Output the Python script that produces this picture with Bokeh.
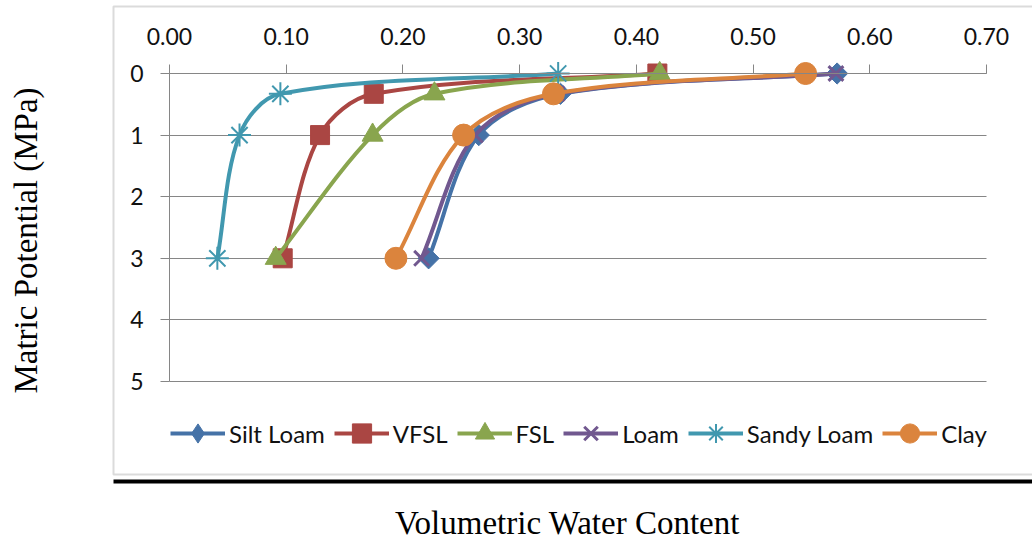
import math
import numpy as np
from bokeh.plotting import figure
from bokeh.models import (Range1d, FixedTicker, NumeralTickFormatter, Legend, LegendItem,
                          Label, BoxAnnotation, ColumnDataSource)
from bokeh.embed import file_html
from bokeh.resources import INLINE

# ---------------- data ----------------
potential = [0, 0.33, 1, 3]          # Matric potential (MPa)
series_names = ["Silt Loam", "VFSL", "FSL", "Loam", "Sandy Loam", "Clay"]
silt_loam = [0.572, 0.335, 0.265, 0.222]
vfsl = [0.418, 0.175, 0.129, 0.097]
fsl = [0.420, 0.227, 0.174, 0.091]
loam = [0.571, 0.332, 0.262, 0.216]
sandy_loam = [0.333, 0.095, 0.060, 0.041]
clay = [0.545, 0.329, 0.252, 0.194]
x_ticks = [0.0, 0.1, 0.2, 0.3, 0.4, 0.5, 0.6, 0.7]
y_ticks = [0, 1, 2, 3, 4, 5]

series_values = [silt_loam, vfsl, fsl, loam, sandy_loam, clay]
colors = ["#4572A7", "#AA4643", "#89A54E", "#71588F", "#4198AF", "#DB843D"]
markers = ["square", "square", "triangle", "x", "asterisk", "circle"]
legend_markers = ["diamond", "square", "triangle", "x", "asterisk", "circle"]
mangles = [math.pi / 4, 0, 0, 0, 0, 0]
msizes = [15, 19, 21, 21, 23, 22]
mlw = [1, 1, 1, 3, 2, 1]

GRID = "#868686"

# ---------------- layout (canvas pixels) ----------------
W, H = 1032, 544
PL, PR, PT, PB = 169, 986, 73, 381          # plot-area box
X_MAX, Y_MAX = 0.7, 5
PX_X = (PR - PL) / X_MAX                     # pixels per x unit
PX_Y = (PB - PT) / Y_MAX                     # pixels per y unit

p = figure(width=W, height=H,
           x_range=Range1d(-PL / PX_X, (W - PL) / PX_X),
           y_range=Range1d((H - PT) / PX_Y, -PT / PX_Y),
           x_axis_location="above", output_backend="svg", toolbar_location=None,
           min_border=0, min_border_left=0, min_border_right=0,
           min_border_top=0, min_border_bottom=0)
p.outline_line_color = None
p.background_fill_color = "white"
p.border_fill_color = "white"

xax, yax = p.xaxis[0], p.yaxis[0]
xax.fixed_location = 0
yax.fixed_location = 0
xax.bounds = (0, X_MAX)
yax.bounds = (0, Y_MAX)
for ax in (xax, yax):
    ax.axis_line_color = GRID
    ax.major_tick_line_color = GRID
    ax.major_tick_in = 0
    ax.major_tick_out = 9
    ax.minor_tick_line_color = None
    ax.major_label_text_font = "Lato"
    ax.major_label_text_font_size = "23px"
    ax.major_label_text_color = "#111111"

xax.ticker = FixedTicker(ticks=x_ticks)
xax.formatter = NumeralTickFormatter(format="0.00")
xax.major_label_standoff = 20
yax.ticker = FixedTicker(ticks=y_ticks)
yax.major_label_standoff = 17

p.xgrid.visible = False
p.ygrid.grid_line_color = GRID
p.ygrid.grid_line_width = 1
p.ygrid[0].ticker = FixedTicker(ticks=y_ticks)
p.ygrid[0].cross_bounds = (0, X_MAX)


def smooth_segments(xs, ys):
    """Excel-like smoothed line: cubic Bezier with chord-length-scaled tangents
    (computed in pixel space)."""
    n = len(xs)
    P = [(x * PX_X, y * PX_Y) for x, y in zip(xs, ys)]
    dist = lambda a, b: math.hypot(a[0] - b[0], a[1] - b[1])
    out = dict(x0=[], y0=[], x1=[], y1=[], cx0=[], cy0=[], cx1=[], cy1=[])

    def ctrl(i, forward):
        prv = P[i - 1] if i > 0 else P[i]
        nxt = P[i + 1] if i + 1 < n else P[i]
        tx, ty = nxt[0] - prv[0], nxt[1] - prv[1]
        db, da = dist(P[i], prv), dist(nxt, P[i])
        f = (da if forward else -db) / (db + da) / 3
        return ((P[i][0] + tx * f) / PX_X, (P[i][1] + ty * f) / PX_Y)

    for i in range(n - 1):
        c0 = ctrl(i, True)
        c1 = ctrl(i + 1, False)
        out["x0"].append(xs[i]); out["y0"].append(ys[i])
        out["x1"].append(xs[i + 1]); out["y1"].append(ys[i + 1])
        out["cx0"].append(c0[0]); out["cy0"].append(c0[1])
        out["cx1"].append(c1[0]); out["cy1"].append(c1[1])
    return out


# chart-area border and the thick rule below it (screen units, y up from bottom)
p.add_layout(BoxAnnotation(left=113, right=W + 20, top=H - 6, bottom=H - 474,
                           left_units="screen", right_units="screen", top_units="screen",
                           bottom_units="screen", fill_alpha=0, line_color="#888888",
                           line_width=2, level="underlay"))
p.add_layout(BoxAnnotation(left=113, right=W + 20, top=H - 479, bottom=H - 483,
                           left_units="screen", right_units="screen", top_units="screen",
                           bottom_units="screen", fill_color="black", fill_alpha=1,
                           line_color=None, level="underlay"))

items = []
for name, vals, col, mk, lmk, ang, ms, lw in zip(series_names, series_values, colors, markers,
                                                 legend_markers, mangles, msizes, mlw):
    seg = ColumnDataSource(smooth_segments(vals, potential))
    p.bezier(x0="x0", y0="y0", x1="x1", y1="y1", cx0="cx0", cy0="cy0", cx1="cx1", cy1="cy1",
             source=seg, line_color=col, line_width=4)
    pts = ColumnDataSource(dict(x=vals, y=potential))
    p.scatter(x="x", y="y", source=pts, marker=mk, angle=ang, size=ms, fill_color=col,
              line_color=col, line_width=lw)
    # legend samples (draw nothing on the plot itself)
    leg_line = p.line(x=np.array([np.nan]), y=np.array([np.nan]), line_color=col,
                      line_width=4)
    leg_mark = p.scatter(x=np.array([np.nan]), y=np.array([np.nan]), marker=lmk,
                         fill_color=col, line_color=col, line_width=lw)
    items.append(LegendItem(label=name, renderers=[leg_line, leg_mark]))

legend = Legend(items=items, orientation="horizontal", location=(170, H - 457),
                glyph_width=55, glyph_height=48, label_standoff=4, spacing=9,
                padding=0, margin=0, border_line_color=None, background_fill_alpha=0,
                label_text_font="Lato", label_text_font_size="24px",
                label_text_color="#111111", label_height=48)
p.add_layout(legend, "center")

p.add_layout(Label(x=25, y=H - 240, x_units="screen", y_units="screen",
                   text="Matric Potential (MPa)", angle=math.pi / 2, text_align="center",
                   text_baseline="middle", text_font="Liberation Serif",
                   text_font_size="33px", text_color="black"))
p.add_layout(Label(x=567, y=H - 522, x_units="screen", y_units="screen",
                   text="Volumetric Water Content", text_align="center",
                   text_baseline="middle", text_font="Liberation Serif",
                   text_font_size="33px", text_color="black"))

open("out.html", "w").write(file_html(p, INLINE))
